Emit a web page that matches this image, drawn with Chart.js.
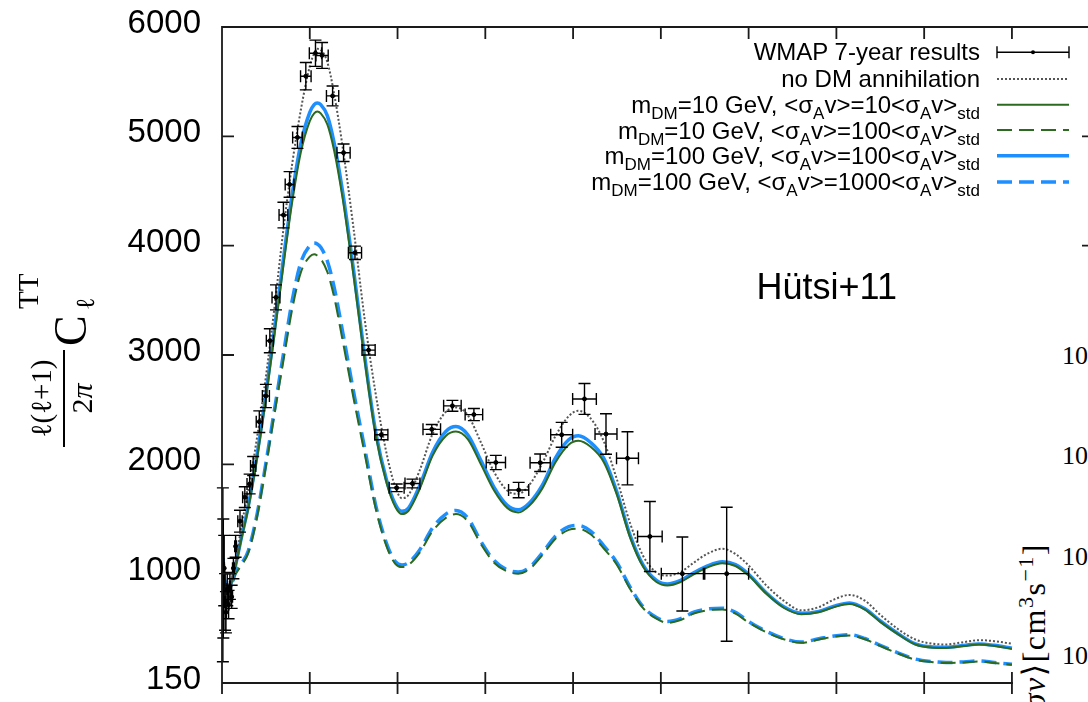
<!DOCTYPE html>
<html><head><meta charset="utf-8">
<script src="https://cdn.jsdelivr.net/npm/chart.js@4/dist/chart.umd.min.js"></script>
<style>
html,body{margin:0;padding:0;background:#fff;overflow:hidden;width:1088px;height:702px}
#wrap{position:relative;width:1110px;height:702px;overflow:hidden}
canvas{position:absolute;left:0;top:0}
.lg{position:absolute;left:0;width:980px;text-align:right;font-family:'Liberation Sans',Arial,sans-serif;font-size:24px;line-height:24px;color:#000;white-space:nowrap}
.sb{font-size:17px;position:relative;top:6px}
.ser{font-family:'Liberation Serif','DejaVu Serif',serif;color:#000;white-space:nowrap;position:absolute}
#ytitle{position:absolute;left:-30px;top:320px;width:177px;height:77px;transform:rotate(-90deg);transform-origin:50% 50%}
#ov{position:absolute;left:1013px;top:290px;width:97px;height:412px;background:#fff}
.sp{font-size:22px;position:relative;top:-12px}
</style></head>
<body>
<div id="wrap">
<canvas id="c" width="1110" height="702"></canvas>

<div id="ytitle">
  <div class="ser" style="left:0;top:6.7px;width:97px;text-align:center;font-size:29px;line-height:29px">ℓ(ℓ+1)</div>
  <div style="position:absolute;left:0;top:43.3px;width:97px;height:2px;background:#000"></div>
  <div class="ser" style="left:0;top:46.9px;width:97px;text-align:center;font-size:30px;line-height:30px">2<i>π</i></div>
  <div class="ser" style="left:101px;top:28px;font-size:46px;line-height:46px">C</div>
  <div class="ser" style="left:138px;top:-6px;font-size:29px;line-height:29px">TT</div>
  <div class="ser" style="left:137px;top:53.2px;font-size:26px;line-height:26px">ℓ</div>
</div>

<div class="lg" style="top:39.7px">WMAP 7-year results</div>
<div class="lg" style="top:66.7px">no DM annihilation</div>
<div class="lg" style="top:92.7px">m<span class="sb">DM</span>=10 GeV, &lt;σ<span class="sb">A</span>v&gt;=10&lt;σ<span class="sb">A</span>v&gt;<span class="sb">std</span></div>
<div class="lg" style="top:118.7px">m<span class="sb">DM</span>=10 GeV, &lt;σ<span class="sb">A</span>v&gt;=100&lt;σ<span class="sb">A</span>v&gt;<span class="sb">std</span></div>
<div class="lg" style="top:143.7px">m<span class="sb">DM</span>=100 GeV, &lt;σ<span class="sb">A</span>v&gt;=100&lt;σ<span class="sb">A</span>v&gt;<span class="sb">std</span></div>
<div class="lg" style="top:169.7px">m<span class="sb">DM</span>=100 GeV, &lt;σ<span class="sb">A</span>v&gt;=1000&lt;σ<span class="sb">A</span>v&gt;<span class="sb">std</span></div>

<div style="position:absolute;left:0;top:268.5px;width:897px;text-align:right;font-family:'Liberation Sans',Arial,sans-serif;font-size:36px;line-height:36px;color:#000">Hütsi+11</div>

<div id="ov"></div>
<div class="ser" style="left:1062px;top:342.5px;font-size:26px;line-height:26px">10</div>
<div class="ser" style="left:1062px;top:443px;font-size:26px;line-height:26px">10</div>
<div class="ser" style="left:1062px;top:544px;font-size:26px;line-height:26px">10</div>
<div class="ser" style="left:1062px;top:643px;font-size:26px;line-height:26px">10</div>
<div class="ser" style="left:1018px;top:843px;width:300px;text-align:right;font-size:32px;line-height:32px;letter-spacing:1.5px;transform-origin:0 0;transform:rotate(-90deg)">⟨<i>σv</i>⟩[cm<span class="sp">3</span>s<span class="sp">−1</span>]</div>
</div>

<script>
// ---- data ----
const yTickValues = [150, 1000, 2000, 3000, 4000, 5000, 6000];
const yTickLabels = ['150', '1000', '2000', '3000', '4000', '5000', '6000'];
const xTickValues = [0, 200, 400, 600, 800, 1000, 1200, 1400, 1600, 1800];

const ell = [2, 6, 12, 20, 30, 45, 60, 80, 100, 120,
  140, 160, 180, 200, 210, 217, 225, 240, 255, 275,
  300, 325, 350, 375, 395, 410, 425, 450, 480, 510,
  533, 560, 590, 620, 650, 675, 700, 730, 760, 790,
  812, 840, 870, 900, 930, 960, 990, 1015, 1045, 1075,
  1105, 1140, 1170, 1200, 1240, 1280, 1320, 1360, 1395, 1430,
  1465, 1500, 1540, 1580, 1620, 1650, 1690, 1725, 1760, 1800];

const noDM = [1100, 950, 880, 930, 1080, 1450, 1760, 2250, 2800, 3450,
  4150, 4750, 5250, 5640, 5760, 5800, 5790, 5680, 5400, 4900,
  4150, 3330, 2650, 2100, 1790, 1690, 1720, 1940, 2280, 2480,
  2520, 2450, 2200, 1930, 1760, 1730, 1810, 2010, 2260, 2440,
  2490, 2420, 2210, 1860, 1460, 1160, 1010, 985, 1015, 1100,
  1180, 1228, 1180, 1075, 910, 790, 715, 740, 800, 835,
  790, 680, 570, 488, 455, 450, 468, 483, 475, 455];

const m10x10 = [1130, 940, 870, 910, 1050, 1330, 1600, 2060, 2600, 3200,
  3820, 4400, 4860, 5140, 5210, 5227, 5210, 5110, 4880, 4430,
  3720, 2950, 2270, 1830, 1610, 1545, 1575, 1770, 2080, 2260,
  2300, 2230, 2000, 1760, 1600, 1560, 1620, 1780, 2020, 2180,
  2216, 2160, 2020, 1720, 1330, 1060, 935, 908, 935, 995,
  1055, 1095, 1070, 985, 845, 735, 685, 700, 740, 764,
  720, 625, 530, 449, 425, 423, 437, 449, 438, 415];

const m10x100 = [1130, 940, 865, 890, 990, 1080, 1190, 1520, 1980, 2470,
  2950, 3420, 3760, 3900, 3922, 3910, 3880, 3760, 3540, 3130,
  2600, 2100, 1600, 1250, 1090, 1060, 1080, 1190, 1390, 1510,
  1545, 1480, 1270, 1100, 1020, 1000, 1040, 1170, 1320, 1400,
  1411, 1360, 1230, 1080, 880, 730, 650, 618, 640, 690,
  715, 722, 690, 620, 545, 490, 462, 488, 510, 520,
  490, 438, 380, 331, 312, 305, 310, 318, 305, 292];

const m100x100 = [1140, 950, 875, 915, 1060, 1345, 1620, 2090, 2640, 3250,
  3880, 4470, 4940, 5220, 5290, 5306, 5290, 5190, 4950, 4490,
  3770, 2990, 2300, 1855, 1635, 1570, 1600, 1800, 2110, 2300,
  2345, 2270, 2035, 1790, 1625, 1585, 1645, 1810, 2060, 2225,
  2262, 2200, 2055, 1745, 1350, 1075, 948, 920, 948, 1008,
  1068, 1108, 1082, 995, 852, 742, 692, 707, 748, 772,
  727, 632, 535, 454, 430, 428, 442, 454, 443, 420];

const m100x1000 = [1140, 950, 870, 895, 1000, 1095, 1210, 1545, 2010, 2510,
  3010, 3500, 3850, 4000, 4024, 4015, 3985, 3860, 3630, 3210,
  2660, 2150, 1630, 1275, 1110, 1080, 1100, 1215, 1420, 1545,
  1578, 1510, 1295, 1120, 1035, 1015, 1055, 1190, 1345, 1430,
  1441, 1390, 1255, 1100, 895, 740, 660, 628, 650, 700,
  725, 732, 700, 628, 552, 496, 468, 494, 516, 526,
  496, 443, 385, 336, 316, 309, 314, 322, 309, 296];

// WMAP 7-year binned points
const wmapL = [2, 3, 5, 7, 9, 12, 15, 18, 22, 26,
  31, 41, 52, 63, 71, 85, 100, 109, 123, 140,
  154, 172, 191, 213, 228, 252, 277, 303, 334, 363,
  398, 434, 478, 525, 574, 624, 676, 725, 774, 826,
  875, 924, 975, 1049, 1150];
const wmapV = [1050, 1000, 1050, 780, 700, 880, 760, 900, 820, 1050,
  1250, 1480, 1700, 1820, 1985, 2390, 2625, 3130, 3527, 4280,
  4560, 4990, 5550, 5760, 5740, 5370, 4850, 3935, 3045, 2270,
  1785, 1825, 2320, 2535, 2455, 2017, 1765, 2015, 2270, 2598,
  2277, 2055, 1340, 1000, 1000];
const wmapDl = [0, 0, 0.5, 1, 1, 1, 1, 1, 2, 2,
  2, 5, 5, 6, 6, 7, 8, 8, 9, 10,
  10, 11, 12, 14, 14, 14, 15, 15, 15, 15,
  17, 17, 20, 20, 20, 22, 23, 23, 25, 27,
  25, 25, 28, 48, 50];
const wmapErrHi = [735, 500, 300, 220, 160, 130, 110, 100, 90, 90,
  100, 100, 95, 90, 87, 99, 106, 110, 114, 117,
  117, 100, 125, 120, 118, 91, 80, 61, 45, 45,
  35, 40, 45, 50, 55, 65, 70, 80, 114, 141,
  185, 243, 320, 335, 608];
const wmapErrLo = [735, 500, 300, 220, 160, 130, 110, 100, 90, 90,
  100, 100, 95, 90, 87, 99, 106, 110, 114, 117,
  117, 100, 125, 120, 118, 91, 80, 61, 45, 45,
  35, 40, 45, 50, 55, 65, 70, 80, 114, 141,
  185, 243, 320, 290, 525];

// axis below 1000 is compressed so that 150 sits at the bottom
const T = v => v >= 1000 ? v : 1000 - (1000 - v) * (1000 / 850);
const pts = arr => ell.map((l, i) => ({x: l, y: T(arr[i])}));

const BLUE = '#1e8fff', GREEN = '#2b6a1f', GRAY = '#555555';

const framePlugin = {
  id: 'frame',
  afterDraw(chart) {
    const {ctx, chartArea: a, scales: {x, y}} = chart;
    ctx.save();
    ctx.strokeStyle = '#1a1a1a'; ctx.lineWidth = 1.8;
    ctx.beginPath();
    ctx.rect(a.left, a.top, a.right - a.left, a.bottom - a.top);
    yTickValues.forEach(v => {
      const py = y.getPixelForValue(T(v));
      ctx.moveTo(a.left, py); ctx.lineTo(a.left + 12, py);
      ctx.moveTo(a.right, py); ctx.lineTo(a.right - 12, py);
    });
    xTickValues.forEach(v => {
      const px = x.getPixelForValue(v);
      ctx.moveTo(px, a.top); ctx.lineTo(px, a.top + 12);
      ctx.moveTo(px, a.bottom - 11); ctx.lineTo(px, a.bottom + 11);
    });
    ctx.stroke();
    // legend samples
    const ds = chart.data.datasets;
    const x0 = 997, x1 = 1069, rows = [52.3, 79, 104.7, 130, 155.7, 182];
    const order = ['wmap', 'nodm', 'g1', 'g2', 'b1', 'b2'];
    order.forEach((key, r) => {
      const d = ds.find(s => s.key === key);
      const yy = rows[r];
      ctx.save();
      if (key === 'wmap') {
        ctx.strokeStyle = '#000'; ctx.lineWidth = 1.4;
        ctx.beginPath();
        ctx.moveTo(x0, yy); ctx.lineTo(x1, yy);
        ctx.moveTo(x0, yy - 6); ctx.lineTo(x0, yy + 6);
        ctx.moveTo(x1, yy - 6); ctx.lineTo(x1, yy + 6);
        ctx.stroke();
        ctx.fillStyle = '#000'; ctx.beginPath(); ctx.arc((x0 + x1) / 2, yy, 2, 0, Math.PI * 2); ctx.fill();
      } else {
        ctx.strokeStyle = d.borderColor; ctx.lineWidth = d.borderWidth;
        ctx.setLineDash(d.borderDash || []);
        ctx.beginPath(); ctx.moveTo(x0, yy); ctx.lineTo(x1, yy); ctx.stroke();
      }
      ctx.restore();
    });
    ctx.restore();
  }
};

const errPlugin = {
  id: 'errbars',
  afterDatasetsDraw(chart) {
    const {ctx, chartArea: a, scales: {x, y}} = chart;
    ctx.save();
    ctx.beginPath(); ctx.rect(a.left - 8, a.top, a.right - a.left + 8, a.bottom - a.top); ctx.clip();
    ctx.strokeStyle = '#000'; ctx.lineWidth = 1.4;
    const c = 6;
    for (let i = 0; i < wmapL.length; i++) {
      const px = x.getPixelForValue(wmapL[i]);
      const py = y.getPixelForValue(T(wmapV[i]));
      const yt = y.getPixelForValue(T(wmapV[i] + wmapErrHi[i]));
      const yb = y.getPixelForValue(T(wmapV[i] - wmapErrLo[i]));
      ctx.beginPath();
      ctx.moveTo(px, yt); ctx.lineTo(px, yb);
      ctx.moveTo(px - c, yt); ctx.lineTo(px + c, yt);
      ctx.moveTo(px - c, yb); ctx.lineTo(px + c, yb);
      if (wmapDl[i] > 0) {
        const xl = x.getPixelForValue(wmapL[i] - wmapDl[i]);
        const xr = x.getPixelForValue(wmapL[i] + wmapDl[i]);
        ctx.moveTo(xl, py); ctx.lineTo(xr, py);
        ctx.moveTo(xl, py - c); ctx.lineTo(xl, py + c);
        ctx.moveTo(xr, py - c); ctx.lineTo(xr, py + c);
      }
      ctx.stroke();
    }
    ctx.restore();
  }
};

const line = (key, label, arr, color, width, dash, order) => ({
  key, label, data: pts(arr), borderColor: color, borderWidth: width,
  borderDash: dash, pointRadius: 0, fill: false, order,
  cubicInterpolationMode: 'monotone'
});

new Chart(document.getElementById('c').getContext('2d'), {
  type: 'line',
  data: {
    datasets: [
      {key: 'wmap', label: 'WMAP 7-year results', type: 'scatter',
        data: wmapL.map((l, i) => ({x: l, y: T(wmapV[i])})),
        showLine: false, pointRadius: 2, pointBackgroundColor: '#000', pointBorderColor: '#000', order: 0},
      line('nodm', 'no DM annihilation', noDM, GRAY, 2, [2, 2], 1),
      line('g1', 'mDM=10 GeV, 10x', m10x10, GREEN, 2, [], 2),
      line('b1', 'mDM=100 GeV, 100x', m100x100, BLUE, 3.5, [], 3),
      line('g2', 'mDM=10 GeV, 100x', m10x100, GREEN, 2, [15, 7], 4),
      line('b2', 'mDM=100 GeV, 1000x', m100x1000, BLUE, 3.5, [15, 7], 5)
    ]
  },
  options: {
    responsive: false, animation: false, devicePixelRatio: 1,
    layout: {autoPadding: false, padding: {top: 27, right: 16, left: 0, bottom: 0}},
    plugins: {legend: {display: false}, tooltip: {enabled: false}},
    scales: {
      x: {type: 'linear', min: 0, max: 1987,
        grid: {display: false}, border: {display: false}, ticks: {display: false},
        afterFit: s => { s.height = 19; s.paddingLeft = 0; s.paddingRight = 0; s.paddingTop = 0; s.paddingBottom = 0; }},
      y: {type: 'linear', min: 0, max: 6000,
        grid: {display: false}, border: {display: false},
        afterBuildTicks: s => { s.ticks = yTickValues.map(v => ({value: T(v)})); },
        ticks: {color: '#000', padding: 13, labelOffset: -3,
          font: {family: "'Liberation Sans', Arial, sans-serif", size: 33},
          callback: (v, i) => yTickLabels[i]},
        afterFit: s => { s.width = 222; s.paddingTop = 0; s.paddingBottom = 0; s.paddingLeft = 0; s.paddingRight = 0; }}
    }
  },
  plugins: [framePlugin, errPlugin]
});
</script>
</body></html>
